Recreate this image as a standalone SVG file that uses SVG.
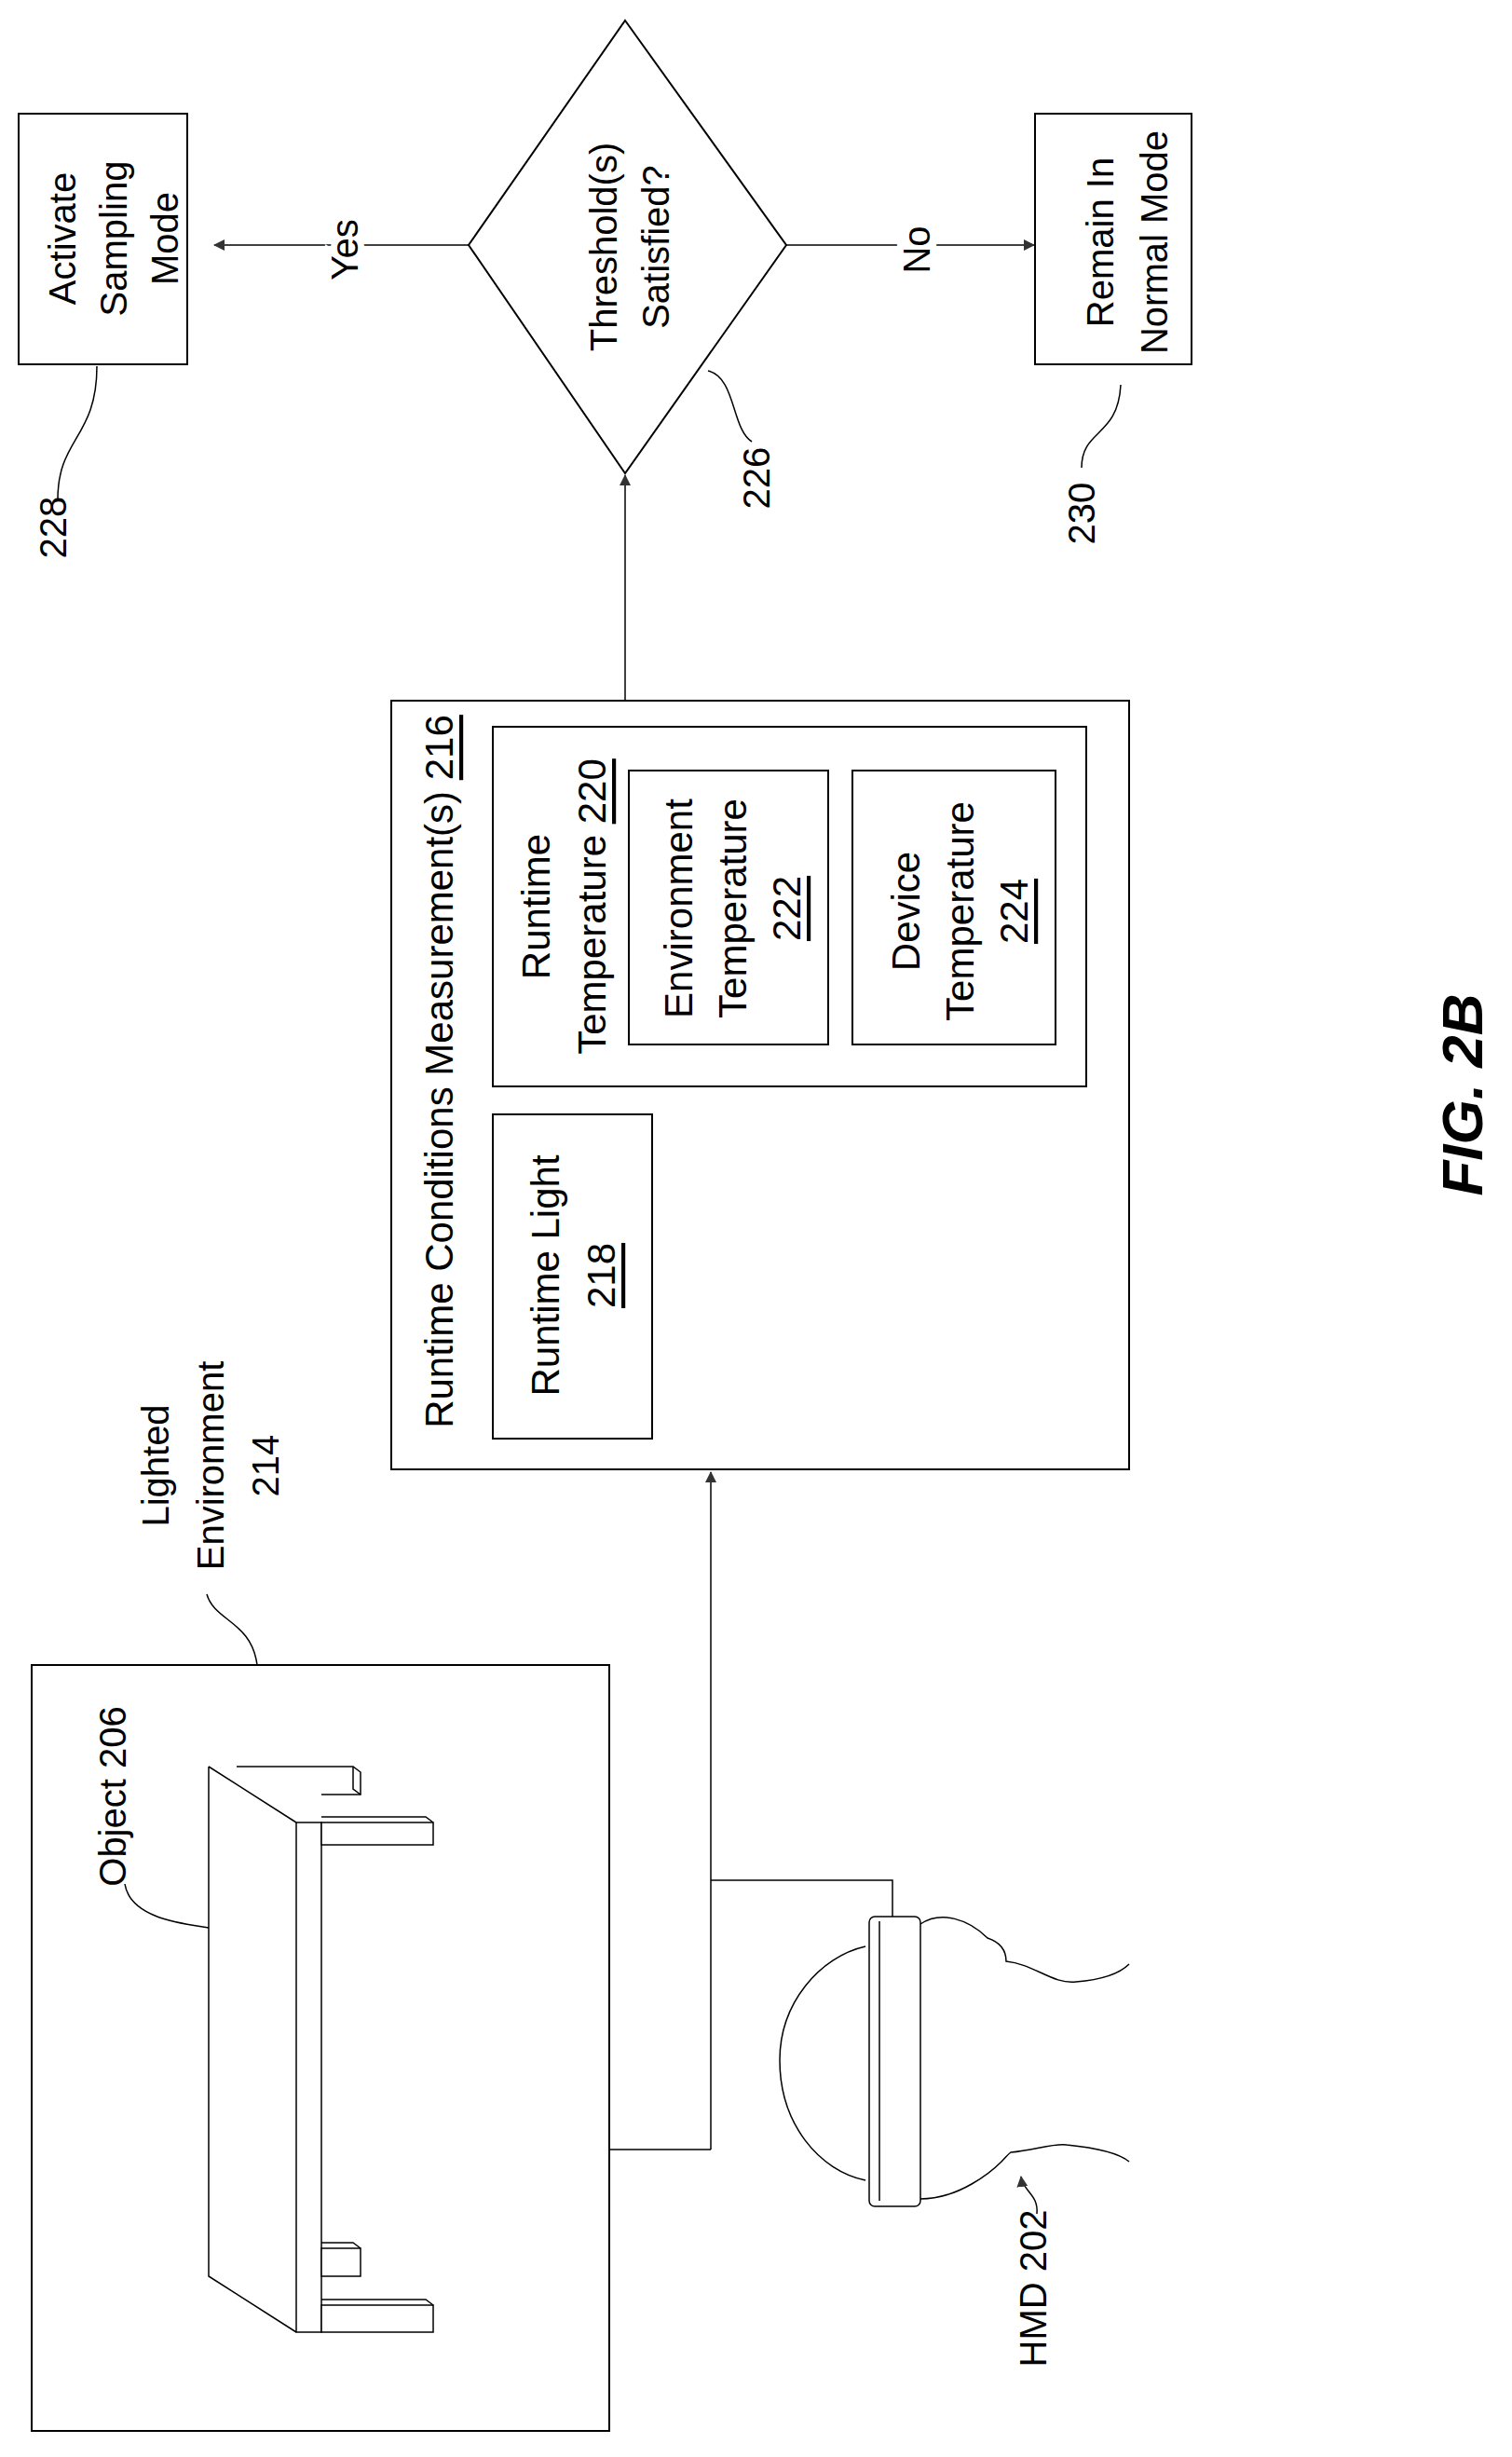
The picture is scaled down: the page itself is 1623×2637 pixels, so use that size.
<svg xmlns="http://www.w3.org/2000/svg" width="1623" height="2637" viewBox="0 0 1623 2637">
<style>
.b{fill:#fff;stroke:#000;stroke-width:2}
.l{fill:none;stroke:#000;stroke-width:1.5}
.t{font-family:"Liberation Sans",Arial,sans-serif;font-size:40px;fill:#000;text-anchor:middle;dominant-baseline:central}
.n{font-family:"Liberation Sans",Arial,sans-serif;font-size:42px;fill:#000;text-anchor:middle;dominant-baseline:central}
.u{text-decoration:underline}
</style>
<defs>
<marker id="a" markerWidth="12" markerHeight="12" refX="11" refY="6" orient="auto" markerUnits="userSpaceOnUse"><path d="M0,0 L12,6 L0,12 Z" fill="#333"/></marker>
</defs>
<rect width="1623" height="2637" fill="#fff"/>
<g id="connectors">
<path class="l" d="M503,263 H230" marker-end="url(#a)"/>
<path class="l" d="M844,263 H1110" marker-end="url(#a)"/>
<path class="l" d="M671,752 V510" marker-end="url(#a)"/>
<path class="l" d="M655,2307 H763 M958,2057 V2018 H763 M763,2307 V1580" marker-end="url(#a)"/>
</g>
<g id="n228">
<rect class="b" x="20" y="122" width="181" height="269"/>
<text class="t" transform="translate(122,256) rotate(-90)"><tspan x="0" y="-55">Activate</tspan><tspan x="0" y="0">Sampling</tspan><tspan x="0" y="55">Mode</tspan></text>
<path class="l" d="M104,393 C104,470 62,470 62,536"/>
<text class="t" transform="translate(57,566) rotate(-90)">228</text>
</g>
<g id="n226">
<path class="b" d="M671,22 L844,263 L671,508 L503,263 Z"/>
<text class="t" transform="translate(676,265) rotate(-90)"><tspan x="0" y="-28">Threshold(s)</tspan><tspan x="0" y="28">Satisfied?</tspan></text>
<path class="l" d="M760,398 C790,405 785,460 807,474"/>
<text class="t" transform="translate(812,513) rotate(-90)">226</text>
<text class="t" transform="translate(370,268) rotate(-90)" style="paint-order:stroke" stroke="#fff" stroke-width="14">Yes</text>
<text class="t" transform="translate(984,268) rotate(-90)" style="paint-order:stroke" stroke="#fff" stroke-width="14">No</text>
</g>
<g id="n230">
<rect class="b" x="1111" y="122" width="168" height="269"/>
<text class="t" transform="translate(1210,260) rotate(-90)"><tspan x="0" y="-29">Remain In</tspan><tspan x="0" y="29">Normal Mode</tspan></text>
<path class="l" d="M1203,413 C1200,470 1161,460 1161,502"/>
<text class="t" transform="translate(1161,551) rotate(-90)">230</text>
</g>
<g id="n216">
<rect class="b" x="420" y="752" width="792" height="825"/>
<text class="n" transform="translate(471,1150) rotate(-90)">Runtime Conditions Measurement(s) <tspan class="u">216</tspan></text>
</g>
<g id="n220">
<rect class="b" x="529" y="780" width="637" height="386"/>
<text class="n" transform="translate(605,973) rotate(-90)"><tspan x="0" y="-30">Runtime</tspan><tspan x="0" y="30">Temperature <tspan class="u">220</tspan></tspan></text>
</g>
<g id="n222">
<rect class="b" x="675" y="827" width="214" height="294"/>
<text class="n" transform="translate(786,975) rotate(-90)"><tspan x="0" y="-58">Environment</tspan><tspan x="0" y="0">Temperature</tspan><tspan x="0" y="58" class="u">222</tspan></text>
</g>
<g id="n224">
<rect class="b" x="915" y="827" width="218" height="294"/>
<text class="n" transform="translate(1030,978) rotate(-90)"><tspan x="0" y="-58">Device</tspan><tspan x="0" y="0">Temperature</tspan><tspan x="0" y="58" class="u">224</tspan></text>
</g>
<g id="n218">
<rect class="b" x="529" y="1196" width="171" height="348"/>
<text class="n" transform="translate(615,1369) rotate(-90)"><tspan x="0" y="-30">Runtime Light</tspan><tspan x="0" y="30" class="u">218</tspan></text>
</g>
<g id="n214">
<rect class="b" x="34" y="1787" width="620" height="822"/>
<text class="t" transform="translate(226,1573) rotate(-90)"><tspan x="0" y="-59">Lighted</tspan><tspan x="0" y="0">Environment</tspan><tspan x="0" y="59">214</tspan></text>
<path class="l" d="M276,1787 C270,1740 230,1740 222,1711"/>
</g>
<g id="n206">
<path class="l" d="M224,1896 V2443 L318,2503 M224,1896 L318,1956"/>
<rect class="b" x="318" y="1956" width="27" height="547" style="stroke-width:1.5"/>
<path class="l" d="M254,1896 H379 L387,1902 V1926 H345"/>
<path class="l" d="M379,1896 V1920 L387,1926"/>
<rect class="b" x="345" y="1956" width="120" height="24" style="stroke-width:1.5"/>
<path class="l" d="M465,1956 L457,1950 H345"/>
<rect class="b" x="345" y="2474" width="120" height="29" style="stroke-width:1.5"/>
<path class="l" d="M465,2474 L457,2468 H345"/>
<rect class="b" x="345" y="2413" width="42" height="30" style="stroke-width:1.5"/>
<path class="l" d="M387,2413 L379,2407 H345"/>
<text class="t" transform="translate(121,1928) rotate(-90)">Object 206</text>
<path class="l" d="M134,2022 C140,2060 200,2065 224,2069"/>
</g>
<g id="n202">
<path class="l" d="M929,2089 C880,2100 837,2150 837,2211 C837,2280 880,2330 929,2340"/>
<path class="l" d="M988,2065 C1010,2050 1040,2060 1060,2080 C1075,2085 1080,2095 1080,2105 C1110,2108 1130,2130 1155,2127 C1180,2125 1200,2120 1212,2108"/>
<path class="l" d="M988,2360 C1030,2360 1065,2330 1075,2320 C1080,2315 1082,2312 1085,2310 C1110,2308 1130,2300 1145,2302 C1175,2305 1200,2310 1212,2320"/>
<rect class="b" x="933" y="2057" width="55" height="311" rx="6" style="stroke-width:1.5"/>
<path class="l" d="M944,2062 V2362"/>
<text class="t" transform="translate(1109,2456) rotate(-90)">HMD 202</text>
<path class="l" d="M1113,2376 C1115,2355 1098,2352 1096,2336" marker-end="url(#a)"/>
</g>
<text transform="translate(1569,1175) rotate(-90)" style="font-family:'Liberation Sans',Arial,sans-serif;font-size:62px;font-weight:bold;font-style:italic;text-anchor:middle;dominant-baseline:central">FIG. 2B</text>
</svg>
